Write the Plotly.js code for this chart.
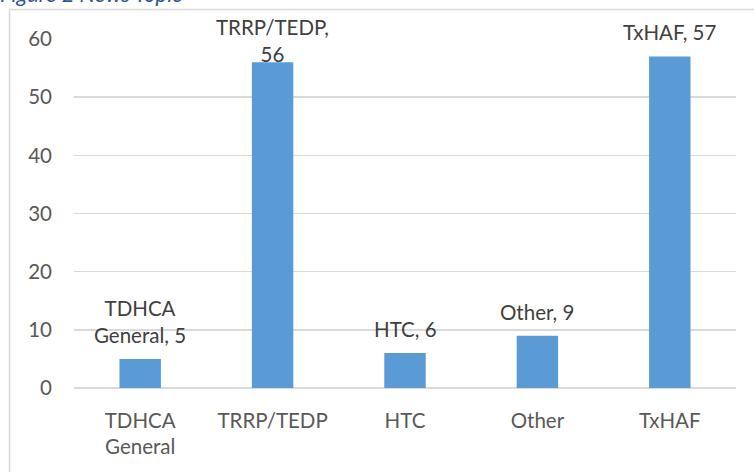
<!DOCTYPE html>
<html>
<head>
<meta charset="utf-8">
<script src="https://cdn.plot.ly/plotly-3.0.1.min.js"></script>
<style>html,body{margin:0;padding:0;background:#fff;}#chart{width:754px;height:472px;}</style>
</head>
<body>
<div id="chart"></div>
<script>
const categories = ["TDHCA General", "TRRP/TEDP", "HTC", "Other", "TxHAF"];
const values = [5, 56, 6, 9, 57];
const yTicks = [0, 10, 20, 30, 40, 50, 60];
const chartTitle = "Figure 2 News Topic";

const FONT = "Lato, 'Open Sans', sans-serif";
const FS = 20.5;
const W = 754, H = 472;
const M = {l: 74, r: 18, t: 39, b: 84};

function wrap(s, maxChars) {
  const words = s.split(" ");
  const lines = [];
  let cur = "";
  words.forEach(w => {
    if (cur === "") cur = w;
    else if ((cur + " " + w).length > maxChars) { lines.push(cur); cur = w; }
    else cur = cur + " " + w;
  });
  if (cur) lines.push(cur);
  return lines;
}

const tickText = categories.map(c => wrap(c, 10).join("<br>"));
const labelLines = categories.map((c, i) => wrap(c + ", " + values[i], 12));

const trace = {
  type: "bar",
  x: categories,
  y: values,
  marker: {color: "#5b9bd5"},
  hoverinfo: "x+y"
};

const pw = W - M.l - M.r, ph = H - M.t - M.b;
function px2paperX(p) { return (p - M.l) / pw; }
function px2paperY(p) { return (H - M.b - p) / ph; }

const layout = {
  width: W, height: H,
  margin: M,
  paper_bgcolor: "#ffffff",
  plot_bgcolor: "#ffffff",
  showlegend: false,
  bargap: 0.687,
  font: {family: FONT, size: FS, color: "#595959"},
  xaxis: {
    type: "category",
    tickvals: categories,
    ticktext: tickText,
    showgrid: false,
    zeroline: false,
    showline: false,
    ticks: "",
    ticklabelstandoff: 18,
    tickfont: {family: FONT, size: FS, color: "#595959"}
  },
  yaxis: {
    range: [0, 60],
    tickvals: yTicks,
    ticktext: yTicks.map(String),
    showgrid: true,
    gridcolor: "#d9d9d9",
    gridwidth: 1.5,
    zeroline: true,
    zerolinecolor: "#d9d9d9",
    zerolinewidth: 1.5,
    showline: false,
    ticks: "",
    ticklabelstandoff: 21,
    tickfont: {family: FONT, size: FS, color: "#595959"},
    fixedrange: true
  },
  shapes: [
    {type: "line", xref: "paper", yref: "paper",
     x0: px2paperX(9.5), x1: px2paperX(W + 10), y0: px2paperY(9.5), y1: px2paperY(9.5),
     line: {color: "#d9d9d9", width: 1.5}},
    {type: "line", xref: "paper", yref: "paper",
     x0: px2paperX(9.5), x1: px2paperX(9.5), y0: px2paperY(9.5), y1: px2paperY(H + 10),
     line: {color: "#d9d9d9", width: 1.5}}
  ],
  annotations: [
    {xref: "paper", yref: "paper", x: px2paperX(-2), y: px2paperY(9), xanchor: "left", yanchor: "bottom",
     showarrow: false, text: "<i>" + chartTitle + "</i>",
     font: {family: FONT, size: 22, color: "#2e5597"}}
  ].concat(categories.map((c, i) => ({
    xref: "x", yref: "y", x: c, y: values[i], xanchor: "center", yanchor: "bottom",
    yshift: 10, showarrow: false, text: labelLines[i].join("<br>"),
    font: {family: FONT, size: FS, color: "#404040"}
  })))
};

Plotly.newPlot("chart", [trace], layout, {displayModeBar: false, staticPlot: true}).then(gd => {
  // keep data labels inside the chart area (clamp like the spreadsheet does)
  const ya = gd._fullLayout.yaxis;
  const lineH = FS * 1.3;
  const minTop = 13;
  const anns = gd.layout.annotations.map((a, idx) => {
    if (idx === 0) return a;
    const i = idx - 1;
    const barTop = ya._offset + ya.l2p(values[i]);
    const h = labelLines[i].length * lineH + 2;
    const top = barTop - a.yshift - h;
    if (top < minTop) return Object.assign({}, a, {yshift: a.yshift - (minTop - top)});
    return a;
  });
  return Plotly.relayout(gd, {annotations: anns});
});
</script>
</body>
</html>
